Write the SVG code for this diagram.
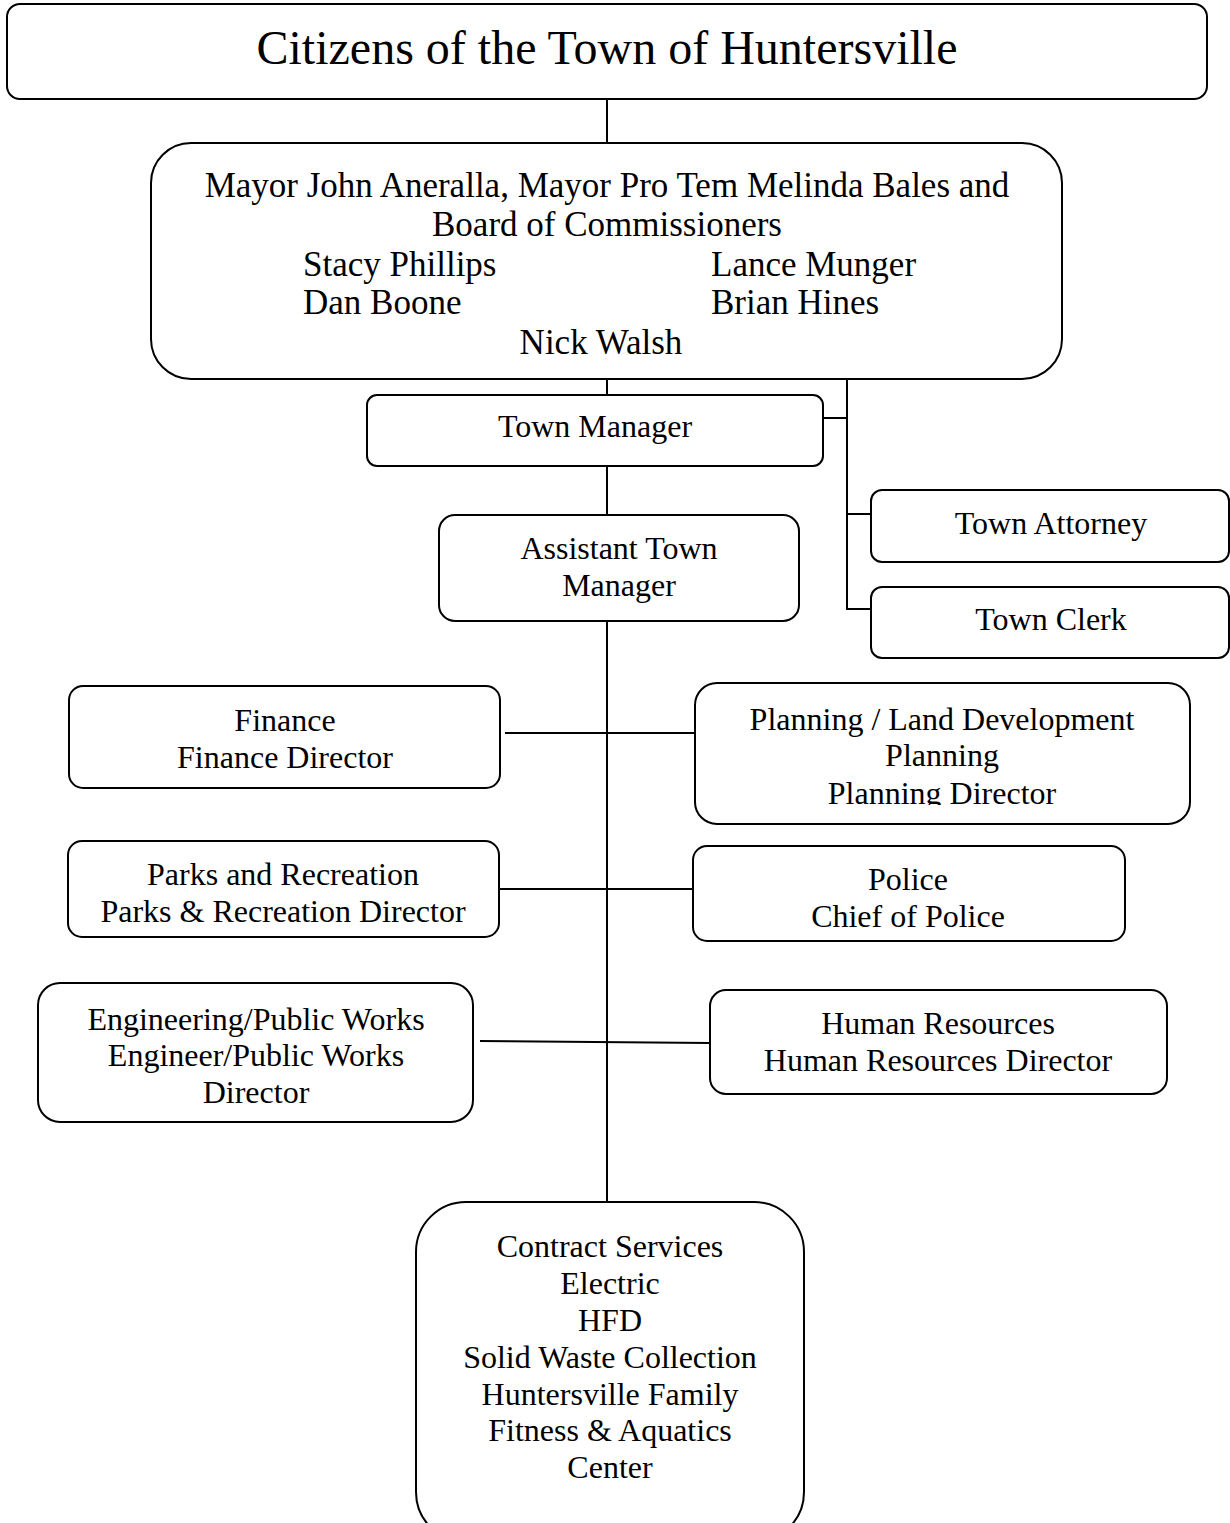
<svg xmlns="http://www.w3.org/2000/svg" width="1230" height="1523" viewBox="0 0 1230 1523">
<style>
.box{fill:#fff;stroke:#000;stroke-width:2}
.ln{fill:none;stroke:#000;stroke-width:2}
text{font-family:'Liberation Serif','Times New Roman',serif;fill:#000;text-anchor:middle;font-size:32px}
.big{font-size:48px}
.mid{font-size:35px}
.st{text-anchor:start}
</style>
<defs>
<clipPath id="cPlan"><rect x="695" y="683" width="496" height="122"/></clipPath>
<clipPath id="cParks"><rect x="68" y="841" width="432" height="81"/></clipPath>
<clipPath id="cPolice"><rect x="693" y="846" width="433" height="81"/></clipPath>
</defs>
<g id="connectors">
<path class="ln" d="M607 99V143"/>
<path class="ln" d="M607 379V395"/>
<path class="ln" d="M607 466V515"/>
<path class="ln" d="M607 621V1202"/>
<path class="ln" d="M847 379V609H871M823 418H847M847 514H871"/>
<path class="ln" d="M505 733H695"/>
<path class="ln" d="M499 889H693"/>
<path class="ln" d="M480 1041L710 1043"/>
</g>
<g id="citizens">
<rect class="box" x="7" y="4" width="1200" height="95" rx="13"/>
<text class="big" x="607" y="64">Citizens of the Town of Huntersville</text>
</g>
<g id="board">
<rect class="box" x="151" y="143" width="911" height="236" rx="40"/>
<text class="mid" x="607" y="197">Mayor John Aneralla, Mayor Pro Tem Melinda Bales and</text>
<text class="mid" x="607" y="236">Board of Commissioners</text>
<text class="mid st" x="303" y="276">Stacy Phillips</text>
<text class="mid st" x="711" y="276">Lance Munger</text>
<text class="mid st" x="303" y="314">Dan Boone</text>
<text class="mid st" x="711" y="314">Brian Hines</text>
<text class="mid" x="601" y="354">Nick Walsh</text>
</g>
<g id="town-manager">
<rect class="box" x="367" y="395" width="456" height="71" rx="10"/>
<text x="595" y="437">Town Manager</text>
</g>
<g id="assistant-town-manager">
<rect class="box" x="439" y="515" width="360" height="106" rx="16"/>
<text x="619" y="559">Assistant Town</text>
<text x="619" y="596">Manager</text>
</g>
<g id="town-attorney">
<rect class="box" x="871" y="490" width="358" height="72" rx="11"/>
<text x="1051" y="534">Town Attorney</text>
</g>
<g id="town-clerk">
<rect class="box" x="871" y="587" width="358" height="71" rx="11"/>
<text x="1051" y="630">Town Clerk</text>
</g>
<g id="finance">
<rect class="box" x="69" y="686" width="431" height="102" rx="14"/>
<text x="285" y="731">Finance</text>
<text x="285" y="768">Finance Director</text>
</g>
<g id="planning">
<rect class="box" x="695" y="683" width="495" height="141" rx="22"/>
<g clip-path="url(#cPlan)">
<text x="942" y="730">Planning / Land Development</text>
<text x="942" y="766">Planning</text>
<text x="942" y="804">Planning Director</text>
</g>
</g>
<g id="parks">
<rect class="box" x="68" y="841" width="431" height="96" rx="14"/>
<g clip-path="url(#cParks)">
<text x="283" y="885">Parks and Recreation</text>
<text x="283" y="922">Parks &amp; Recreation Director</text>
</g>
</g>
<g id="police">
<rect class="box" x="693" y="846" width="432" height="95" rx="14"/>
<g clip-path="url(#cPolice)">
<text x="908" y="890">Police</text>
<text x="908" y="927">Chief of Police</text>
</g>
</g>
<g id="engineering">
<rect class="box" x="38" y="983" width="435" height="139" rx="22"/>
<text x="256" y="1030">Engineering/Public Works</text>
<text x="256" y="1066">Engineer/Public Works</text>
<text x="256" y="1103">Director</text>
</g>
<g id="human-resources">
<rect class="box" x="710" y="990" width="457" height="104" rx="16"/>
<text x="938" y="1034">Human Resources</text>
<text x="938" y="1071">Human Resources Director</text>
</g>
<g id="contract-services">
<rect class="box" x="416" y="1202" width="388" height="340" rx="50"/>
<text x="610" y="1257">Contract Services</text>
<text x="610" y="1294">Electric</text>
<text x="610" y="1331">HFD</text>
<text x="610" y="1368">Solid Waste Collection</text>
<text x="610" y="1405">Huntersville Family</text>
<text x="610" y="1441">Fitness &amp; Aquatics</text>
<text x="610" y="1478">Center</text>
</g>
</svg>
